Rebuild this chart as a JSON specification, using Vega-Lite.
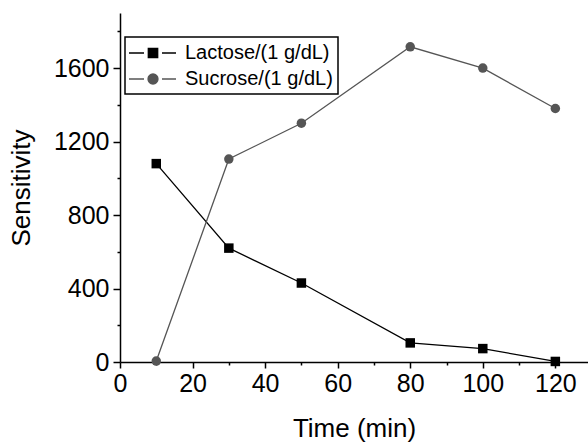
{
  "$schema": "https://vega.github.io/schema/vega-lite/v6.json",
  "width": 468,
  "height": 349,
  "autosize": "none",
  "padding": {"left": 120, "top": 13, "right": 0, "bottom": 80},
  "config": {
    "view": {"stroke": null},
    "font": "Liberation Sans",
    "axis": {
      "domainColor": "#000000",
      "domainWidth": 1.5,
      "tickColor": "#000000",
      "tickWidth": 1.5,
      "labelColor": "#000000",
      "titleColor": "#000000",
      "labelFont": "Liberation Sans",
      "titleFont": "Liberation Sans",
      "labelFontSize": 25,
      "titleFontSize": 26,
      "titleFontWeight": "normal",
      "labelFlush": false,
      "grid": false
    }
  },
  "data": {
    "values": [
      {"time": 10, "sensitivity": 1080, "series": "Lactose/(1 g/dL)"},
      {"time": 30, "sensitivity": 620, "series": "Lactose/(1 g/dL)"},
      {"time": 50, "sensitivity": 430, "series": "Lactose/(1 g/dL)"},
      {"time": 80, "sensitivity": 104, "series": "Lactose/(1 g/dL)"},
      {"time": 100, "sensitivity": 73, "series": "Lactose/(1 g/dL)"},
      {"time": 120, "sensitivity": 3, "series": "Lactose/(1 g/dL)"},
      {"time": 10, "sensitivity": 5, "series": "Sucrose/(1 g/dL)"},
      {"time": 30, "sensitivity": 1105, "series": "Sucrose/(1 g/dL)"},
      {"time": 50, "sensitivity": 1300, "series": "Sucrose/(1 g/dL)"},
      {"time": 80, "sensitivity": 1716, "series": "Sucrose/(1 g/dL)"},
      {"time": 100, "sensitivity": 1600, "series": "Sucrose/(1 g/dL)"},
      {"time": 120, "sensitivity": 1380, "series": "Sucrose/(1 g/dL)"}
    ]
  },
  "layer": [
    {
      "mark": {"type": "line", "strokeWidth": 1.3},
      "encoding": {
        "x": {
          "field": "time", "type": "quantitative",
          "scale": {"domain": [0, 129], "nice": false, "zero": false},
          "axis": {"orient": "bottom", "title": "Time (min)", "values": [0, 20, 40, 60, 80, 100, 120], "format": "d", "tickSize": 6, "labelPadding": 3, "titlePadding": 19, "labelFlush": false}
        },
        "y": {
          "field": "sensitivity", "type": "quantitative",
          "scale": {"domain": [0, 1900], "nice": false},
          "axis": {"orient": "left", "title": "Sensitivity", "values": [0, 400, 800, 1200, 1600], "format": "d", "tickSize": 7, "labelPadding": 4, "titlePadding": 19, "labelFlush": false}
        },
        "color": {
          "field": "series", "type": "nominal",
          "scale": {"domain": ["Lactose/(1 g/dL)", "Sucrose/(1 g/dL)"], "range": ["#000000", "#555555"]},
          "legend": {
            "title": null,
            "orient": "none",
            "legendX": 5,
            "legendY": 24,
            "strokeColor": "#000000",
            "padding": 5,
            "labelFont": "Liberation Sans",
            "labelFontSize": 20,
            "labelColor": "#000000",
            "labelOffset": 33,
            "symbolSize": 400,
            "symbolStrokeWidth": 1.3,
            "rowPadding": 5,
            "encode": {
              "legend": {"update": {"strokeWidth": {"value": 1.5}}},
              "symbols": {
                "update": {
                  "shape": {"signal": "datum.value == 'Lactose/(1 g/dL)' ? 'M-1.2,0H0.3M0.73,-0.47H1.67V0.47H0.73ZM2.1,0H3.5' : 'M-1.2,0H0.3M0.7,0A0.5,0.5 0 1,0 1.7,0A0.5,0.5 0 1,0 0.7,0ZM2.1,0H3.5'"},
                  "fill": {"signal": "datum.value == 'Lactose/(1 g/dL)' ? '#000000' : '#555555'"},
                  "stroke": {"signal": "datum.value == 'Lactose/(1 g/dL)' ? '#000000' : '#555555'"},
                  "strokeWidth": {"value": 1.3},
                  "opacity": {"value": 1},
                  "fillOpacity": {"value": 1}
                }
              }
            }
          }
        }
      }
    },
    {
      "mark": {"type": "point", "filled": true, "size": 90, "opacity": 1},
      "encoding": {
        "x": {"field": "time", "type": "quantitative", "axis": null},
        "y": {"field": "sensitivity", "type": "quantitative", "axis": null},
        "color": {"field": "series", "type": "nominal", "legend": null},
        "shape": {
          "condition": {"test": "datum.series == 'Lactose/(1 g/dL)'", "value": "square"},
          "value": "circle"
        }
      }
    },
    {
      "mark": {"type": "point", "opacity": 0},
      "encoding": {
        "x": {
          "field": "time", "type": "quantitative",
          "axis": {"orient": "bottom", "title": null, "labels": false, "domain": false, "values": [10, 30, 50, 70, 90, 110, 130], "tickSize": 3}
        },
        "y": {
          "field": "sensitivity", "type": "quantitative",
          "axis": {"orient": "left", "title": null, "labels": false, "domain": false, "values": [200, 600, 1000, 1400, 1800], "tickSize": 3}
        }
      }
    }
  ],
  "resolve": {"axis": {"x": "independent", "y": "independent"}}
}
